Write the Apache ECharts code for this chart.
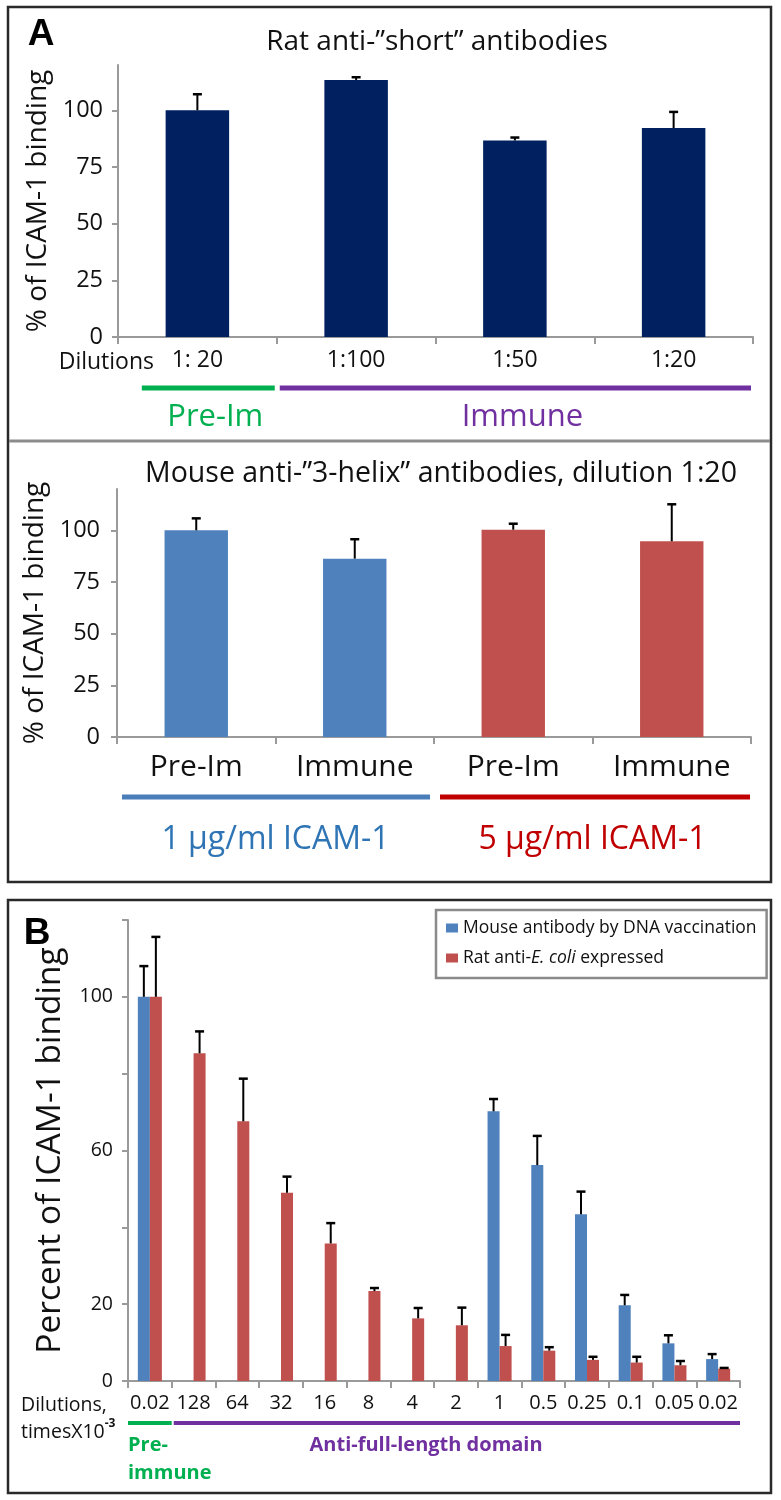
<!DOCTYPE html>
<html><head><meta charset="utf-8">
<script src="https://cdn.jsdelivr.net/npm/echarts@6/dist/echarts.min.js"></script>
<style>html,body{margin:0;padding:0;background:#fff}#c{width:781px;height:1500px}</style>
</head><body><div id="c"></div>
<script>
const FONT = "'Open Sans', 'DejaVu Sans', sans-serif";

// ---- Panel A, top: Rat anti-"short" antibodies
const shortCats = ['1: 20', '1:100', '1:50', '1:20'];
const shortValues = [100, 113.4, 86.7, 92.2];
const shortErrors = [7.1, 1.2, 1.3, 7.1];
const shortTicks = [0, 25, 50, 75, 100];

// ---- Panel A, bottom: Mouse anti-"3-helix" antibodies
const helixCats = ['Pre-Im', 'Immune', 'Pre-Im', 'Immune'];
const helixValues = [100, 86.3, 100.3, 94.7];
const helixErrors = [5.8, 9.4, 2.9, 17.9];
const helixTicks = [0, 25, 50, 75, 100];

// ---- Panel B
const dilutionCats = ['0.02', '128', '64', '32', '16', '8', '4', '2', '1', '0.5', '0.25', '0.1', '0.05', '0.02'];
const mouseName = 'Mouse antibody by DNA vaccination';
const ratName = 'Rat anti-E. coli expressed';
const mouseValues = [100, null, null, null, null, null, null, null, 70.2, 56.2, 43.4, 19.7, 9.8, 5.7];
const mouseErrors = [8, null, null, null, null, null, null, null, 3.2, 7.6, 5.9, 2.7, 2.1, 1.3];
const ratValues = [100, 85.3, 67.6, 49, 35.8, 23.4, 16.3, 14.5, 9.1, 7.9, 5.5, 4.8, 4.1, 3.2];
const ratErrors = [15.6, 5.7, 11.1, 4.2, 5.3, 0.8, 2.7, 4.6, 2.9, 0.9, 0.8, 1.5, 1.1, 0.2];
const bTicks = [0, 20, 40, 60, 80, 100, 120];
const bLabelTicks = [0, 20, 60, 100];

const AXIS_COLOR = '#9a9a9a';
const TXT = '#111';
const NAVY = '#002060', BLUE = '#4F81BD', RED = '#C0504D';
const GREEN = '#00B050', PURPLE = '#7030A0';

function errData(vals, errs) {
  const out = [];
  vals.forEach((v, i) => { if (v != null && errs[i] != null) out.push([i, v, errs[i]]); });
  return out;
}
function errorBars(offsetFrac) {
  return function (params, api) {
    const i = api.value(0), v = api.value(1), e = api.value(2);
    const band = api.size([1, 0])[0];
    const p0 = api.coord([i, v]);
    const p1 = api.coord([i, v + e]);
    const x = p0[0] + offsetFrac * band;
    const cap = 4.5;
    return { type: 'group', children: [
      { type: 'line', shape: { x1: x, y1: p0[1], x2: x, y2: p1[1] }, style: { stroke: '#000', lineWidth: 2 } },
      { type: 'line', shape: { x1: x - cap, y1: p1[1], x2: x + cap, y2: p1[1] }, style: { stroke: '#000', lineWidth: 2.5 } }
    ]};
  };
}
function catAxis(gridIndex, data, fontSize, margin) {
  return {
    type: 'category', gridIndex, data,
    axisLine: { show: true, lineStyle: { color: AXIS_COLOR, width: 2 } },
    axisTick: { show: true, length: 7, lineStyle: { color: AXIS_COLOR, width: 2 } },
    axisLabel: { interval: 0, fontSize, margin, color: TXT, fontFamily: FONT }
  };
}
function valAxis(gridIndex, interval, tickVals, labelVals, fontSize, margin, name, nameSize, nameGap) {
  return {
    type: 'value', gridIndex, min: 0, max: 120, interval,
    splitLine: { show: false },
    axisLine: { show: true, lineStyle: { color: AXIS_COLOR, width: 2 } },
    axisTick: { show: true, length: 6, customValues: tickVals, lineStyle: { color: AXIS_COLOR, width: 2 } },
    axisLabel: { fontSize, margin, color: TXT, fontFamily: FONT, customValues: labelVals },
    name, nameLocation: 'middle', nameRotate: 90, nameGap,
    nameTextStyle: { fontSize: nameSize, color: TXT, fontFamily: FONT }
  };
}

const chart = echarts.init(document.getElementById('c'), null, { renderer: 'canvas' });

chart.setOption({
  animation: false,
  backgroundColor: '#fff',
  textStyle: { fontFamily: FONT },
  title: [
    { text: 'Rat anti-\u201Dshort\u201D antibodies', left: 432, top: 23, textAlign: 'center',
      textStyle: { fontSize: 28, fontWeight: 'normal', color: TXT, fontFamily: FONT } },
    { text: 'Mouse anti-\u201D3-helix\u201D antibodies, dilution 1:20', left: 436, top: 454, textAlign: 'center',
      textStyle: { fontSize: 28.5, fontWeight: 'normal', color: TXT, fontFamily: FONT } }
  ],
  legend: {
    data: [mouseName, ratName], orient: 'vertical', left: 436, top: 910,
    padding: [9, 10, 11, 10], itemGap: 12, itemWidth: 12, itemHeight: 9, icon: 'rect',
    borderColor: '#8a8a8a', borderWidth: 2.5, backgroundColor: '#fff',
    formatter: function (name) {
      if (name === ratName) return '{n|Rat anti-}{i|E. coli}{n| expressed}';
      return '{n|' + name + '}';
    },
    textStyle: { color: TXT, fontFamily: FONT, fontSize: 17.5,
      rich: { n: { fontSize: 17.5, fontFamily: FONT, color: TXT },
              i: { fontSize: 17.5, fontFamily: FONT, fontStyle: 'italic', color: TXT } } }
  },
  grid: [
    { left: 118, top: 65, width: 635, height: 272 },
    { left: 117, top: 489, width: 634, height: 248 },
    { left: 128, top: 920, width: 612, height: 461 }
  ],
  xAxis: [
    catAxis(0, shortCats, 23, 12),
    catAxis(1, helixCats, 30, 15),
    catAxis(2, dilutionCats, 20, 12)
  ],
  yAxis: [
    valAxis(0, 25, shortTicks, shortTicks, 23.5, 15, '% of ICAM-1 binding', 28, 56),
    valAxis(1, 25, helixTicks, helixTicks, 23.5, 17, '% of ICAM-1 binding', 28, 56),
    valAxis(2, 20, bTicks, bLabelTicks, 19.5, 15, 'Percent of ICAM-1 binding', 33.5, 61)
  ],
  series: [
    { type: 'bar', xAxisIndex: 0, yAxisIndex: 0, data: shortValues, barWidth: '40%',
      itemStyle: { color: NAVY } },
    { type: 'custom', xAxisIndex: 0, yAxisIndex: 0, z: 5, renderItem: errorBars(0), data: errData(shortValues, shortErrors) },
    { type: 'bar', xAxisIndex: 1, yAxisIndex: 1, data: helixValues, barWidth: '40%',
      itemStyle: { color: function (p) { return p.dataIndex < 2 ? BLUE : RED; } } },
    { type: 'custom', xAxisIndex: 1, yAxisIndex: 1, z: 5, renderItem: errorBars(0), data: errData(helixValues, helixErrors) },
    { type: 'bar', name: mouseName, xAxisIndex: 2, yAxisIndex: 2, data: mouseValues, barWidth: '27.5%', barGap: '0%',
      itemStyle: { color: BLUE } },
    { type: 'bar', name: ratName, xAxisIndex: 2, yAxisIndex: 2, data: ratValues, barWidth: '27.5%', barGap: '0%',
      itemStyle: { color: RED } },
    { type: 'custom', xAxisIndex: 2, yAxisIndex: 2, z: 5, renderItem: errorBars(-0.1375), data: errData(mouseValues, mouseErrors) },
    { type: 'custom', xAxisIndex: 2, yAxisIndex: 2, z: 5, renderItem: errorBars(0.1375), data: errData(ratValues, ratErrors) }
  ]
});

// ---- annotations positioned from the axes
function cx(axisIndex, i) { return chart.convertToPixel({ xAxisIndex: axisIndex }, i); }
function cy(axisIndex, v) { return chart.convertToPixel({ yAxisIndex: axisIndex }, v); }
function bounds(axisIndex, n) {
  const c0 = cx(axisIndex, 0), c1 = cx(axisIndex, 1), w = c1 - c0;
  const b = [];
  for (let k = 0; k <= n; k++) b.push(c0 - w / 2 + k * w);
  return { b, w };
}
function hline(x1, x2, y, color, lw) {
  return { type: 'line', shape: { x1, y1: y, x2, y2: y }, style: { stroke: color, lineWidth: lw }, z: 10 };
}
function txt(x, y, text, opts) {
  return { type: 'text', x, y, z: 10, style: Object.assign({ text, fill: TXT, font: '23px ' + FONT,
    textAlign: 'center', textVerticalAlign: 'middle' }, opts || {}) };
}

const g = [];
// frames
g.push({ type: 'rect', shape: { x: 8, y: 7, width: 763, height: 875 }, style: { fill: null, stroke: '#2a2a2a', lineWidth: 2.5 }, z: 20 });
g.push({ type: 'line', shape: { x1: 9, y1: 441, x2: 770, y2: 441 }, style: { stroke: '#8c8c8c', lineWidth: 3 }, z: 20 });
g.push({ type: 'rect', shape: { x: 8, y: 900, width: 763, height: 593 }, style: { fill: null, stroke: '#2a2a2a', lineWidth: 2.5 }, z: 20 });
g.push(txt(41, 35, 'A', { font: 'bold 37px "Liberation Sans", Arial, sans-serif', fill: '#000' }));
g.push(txt(37, 934, 'B', { font: 'bold 37px "Liberation Sans", Arial, sans-serif', fill: '#000' }));

// Panel A top brackets
{
  const { b } = bounds(0, 4);
  const w = b[1] - b[0];
  const yAx = cy(0, 0);
  const yl = yAx + 51;
  const gx1 = b[0] + 0.15 * w, gx2 = b[1] - 2, px1 = b[1] + 3, px2 = b[4] - 2;
  g.push(txt(b[0] + 36, yAx + 25, 'Dilutions', { textAlign: 'right' }));
  g.push(hline(gx1, gx2, yl, GREEN, 5));
  g.push(hline(px1, px2, yl, PURPLE, 5));
  g.push(txt((gx1 + gx2) / 2 + 7, yl + 29, 'Pre-Im', { fill: GREEN, font: '31px ' + FONT }));
  g.push(txt((px1 + px2) / 2 + 7, yl + 29, 'Immune', { fill: PURPLE, font: '31px ' + FONT }));
}
// Panel A bottom brackets
{
  const { b } = bounds(1, 4);
  const yAx = cy(1, 0);
  const yl = yAx + 60;
  g.push(hline(b[0] + 5, b[2] - 4, yl, '#4a7ebb', 5));
  g.push(hline(b[2] + 6, b[4] - 1, yl, '#C00000', 5));
  g.push(txt(b[1], yl + 43, '1 \u03BCg/ml ICAM-1', { fill: '#2F75B5', font: '32px ' + FONT }));
  g.push(txt(b[3], yl + 43, '5 \u03BCg/ml ICAM-1', { fill: '#C00000', font: '32px ' + FONT }));
}
// Panel B brackets
{
  const { b } = bounds(2, 14);
  const yAx = cy(2, 0);
  const yl = yAx + 42;
  g.push(hline(b[0], b[1], yl, GREEN, 4));
  g.push(hline(b[1] + 2, b[14], yl, PURPLE, 4));
  g.push(txt(b[0], yl + 22, 'Pre-', { textAlign: 'left', fill: GREEN, font: 'bold 20px ' + FONT }));
  g.push(txt(b[0], yl + 50, 'immune', { textAlign: 'left', fill: GREEN, font: 'bold 20px ' + FONT }));
  g.push(txt((cx(2, 6) + b[7]) / 2 + 3, yl + 22, 'Anti-full-length domain', { fill: PURPLE, font: 'bold 20px ' + FONT }));
  g.push(txt(21, yAx + 24, 'Dilutions,', { textAlign: 'left', font: '19.5px ' + FONT }));
  g.push({ type: 'text', x: 21, y: yAx + 49, z: 10, style: {
    text: '{a|timesX10}{s|-3}', textAlign: 'left', textVerticalAlign: 'middle',
    rich: { a: { fontSize: 19.5, fontFamily: FONT, fill: TXT, lineHeight: 24, verticalAlign: 'bottom' },
            s: { fontSize: 12, fontWeight: 'bold', fontFamily: FONT, fill: TXT, lineHeight: 24, verticalAlign: 'top' } } } });
}
chart.setOption({ graphic: g });
</script></body></html>
